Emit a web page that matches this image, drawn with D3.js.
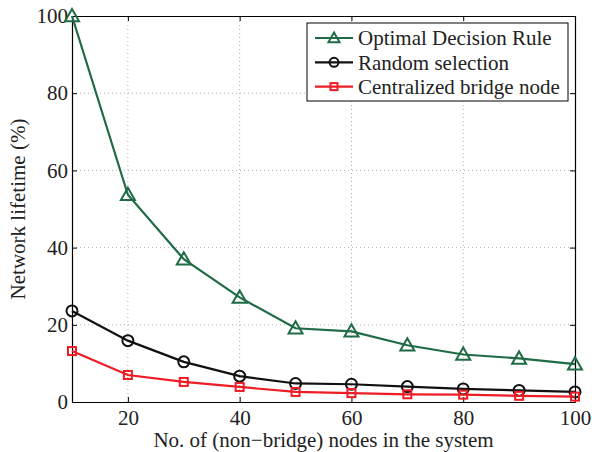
<!DOCTYPE html>
<html><head><meta charset="utf-8">
<script src="https://cdn.jsdelivr.net/npm/d3@7"></script>
<style>body{margin:0;background:#fff}</style>
</head><body>
<script>
const nodes = [10,20,30,40,50,60,70,80,90,100];
const optimal = [100,53.7,37.0,27.1,19.1,18.3,14.7,12.3,11.3,9.8];
const randomSel = [23.6,15.9,10.4,6.7,4.8,4.6,4.0,3.4,3.0,2.6];
const centralized = [13.2,7.0,5.2,3.9,2.6,2.3,2.0,1.9,1.6,1.4];
const xTicks = [20,40,60,80,100];
const yTicks = [0,20,40,60,80,100];
const seriesNames = ["Optimal Decision Rule","Random selection","Centralized bridge node"];

const W=592,H=452;
const m={l:72,r:17,t:16,b:50};
const svg=d3.select("body").append("svg").attr("width",W).attr("height",H);
const x=d3.scaleLinear().domain([10,100]).range([m.l,W-m.r]);
const y=d3.scaleLinear().domain([0,100]).range([H-m.b,m.t]);
const font="Liberation Serif, Times New Roman, serif";
const fs=21;

// grid
const g=svg.append("g");
xTicks.forEach(t=>{ if(t<100) g.append("line").attr("x1",x(t)).attr("x2",x(t)).attr("y1",y(0)).attr("y2",y(100)).attr("stroke","#b0b0b0").attr("stroke-width",1).attr("stroke-dasharray","1,3");});
yTicks.forEach(t=>{ if(t>0&&t<100) g.append("line").attr("x1",x(10)).attr("x2",x(100)).attr("y1",y(t)).attr("y2",y(t)).attr("stroke","#b0b0b0").attr("stroke-width",1).attr("stroke-dasharray","1,3");});

// axes
const ax=d3.axisBottom(x).tickValues(xTicks).tickSizeInner(-5).tickSizeOuter(0).tickPadding(8);
const ay=d3.axisLeft(y).tickValues(yTicks).tickSizeInner(-5).tickSizeOuter(0).tickPadding(4);
const axT=d3.axisTop(x).tickValues(xTicks).tickSizeInner(-5).tickSizeOuter(0).tickFormat("");
const ayR=d3.axisRight(y).tickValues(yTicks).tickSizeInner(-5).tickSizeOuter(0).tickFormat("");
function style(sel){sel.selectAll("path").attr("stroke","#000").attr("stroke-width",1.2);sel.selectAll("line").attr("stroke","#000");sel.selectAll("text").attr("font-family",font).attr("font-size",fs).attr("fill","#222");}
svg.append("g").attr("transform",`translate(0,${y(0)})`).call(ax).call(style);
svg.append("g").attr("transform",`translate(${x(10)},0)`).call(ay).call(style);
svg.append("g").attr("transform",`translate(0,${y(100)})`).call(axT).call(style);
svg.append("g").attr("transform",`translate(${x(100)},0)`).call(ayR).call(style);

const colors=["#1f6b45","#111111","#ee1c24"];
const data=[optimal,randomSel,centralized];
const line=d3.line().x((d,i)=>x(nodes[i])).y(d=>y(d));
function marker(sel,k,cx,cy){
  if(k===0){const s=7;sel.append("path").attr("d",`M${cx},${cy-s}L${cx+s},${cy+s*0.75}L${cx-s},${cy+s*0.75}Z`).attr("fill","none").attr("stroke",colors[k]).attr("stroke-width",2);}
  else if(k===1){sel.append("circle").attr("cx",cx).attr("cy",cy).attr("r",5.5).attr("fill","none").attr("stroke",colors[k]).attr("stroke-width",2);}
  else {sel.append("rect").attr("x",cx-4).attr("y",cy-4).attr("width",8).attr("height",8).attr("fill","none").attr("stroke",colors[k]).attr("stroke-width",2);}
}
data.forEach((arr,k)=>{
  svg.append("path").datum(arr).attr("d",line).attr("fill","none").attr("stroke",colors[k]).attr("stroke-width",2.2);
  const mg=svg.append("g");
  arr.forEach((v,i)=>marker(mg,k,x(nodes[i]),y(v)));
});

// legend
const lg=svg.append("g");
lg.append("rect").attr("x",307).attr("y",23).attr("width",261).attr("height",78).attr("fill","#fff").attr("stroke","#000").attr("stroke-width",1);
seriesNames.forEach((n,k)=>{
  const yy=38+k*24.3;
  lg.append("line").attr("x1",315).attr("x2",353).attr("y1",yy).attr("y2",yy).attr("stroke",colors[k]).attr("stroke-width",2.2);
  const ms=lg.append("g");
  if(k===0){const s=5.5;ms.append("path").attr("d",`M334,${yy-s}L${334+s},${yy+s*0.75}L${334-s},${yy+s*0.75}Z`).attr("fill","none").attr("stroke",colors[k]).attr("stroke-width",2);}
  else if(k===1){ms.append("circle").attr("cx",334).attr("cy",yy).attr("r",4.5).attr("fill","none").attr("stroke",colors[k]).attr("stroke-width",2);}
  else {ms.append("rect").attr("x",330.5).attr("y",yy-3.5).attr("width",7).attr("height",7).attr("fill","none").attr("stroke",colors[k]).attr("stroke-width",2);}
  lg.append("text").attr("x",358).attr("y",yy).attr("dy","0.35em").attr("font-family",font).attr("font-size",fs).attr("fill","#222").text(n);
});

svg.append("text").attr("x",(m.l+W-m.r)/2).attr("y",447).attr("text-anchor","middle").attr("font-family",font).attr("font-size",fs).attr("fill","#222").text("No. of (non\u2212bridge) nodes in the system");
svg.append("text").attr("transform",`translate(25,${(m.t+H-m.b)/2}) rotate(-90)`).attr("text-anchor","middle").attr("font-family",font).attr("font-size",fs).attr("fill","#222").text("Network lifetime (%)");
</script>
</body></html>
